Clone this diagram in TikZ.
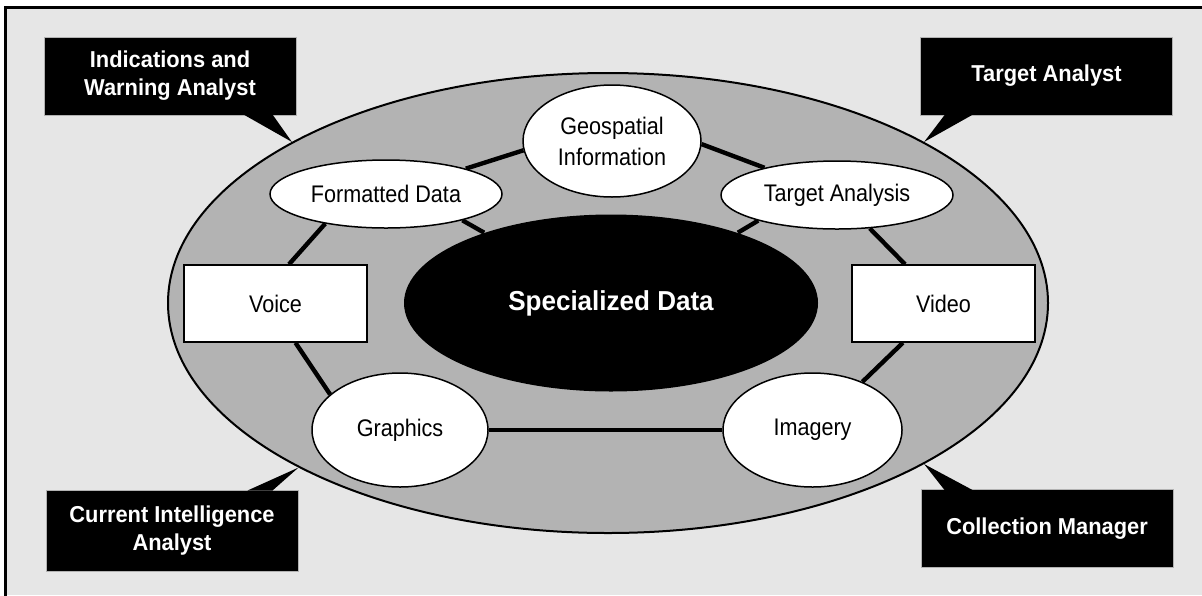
\documentclass[tikz,border=0pt]{standalone}
\usepackage{fontspec}
\setmainfont{Liberation Sans}
\newfontfamily\narrowsans{Liberation Sans}[FakeStretch=0.9]
\newfontfamily\calloutsans{Liberation Sans}[FakeStretch=0.95]
\usetikzlibrary{shapes.geometric, calc}

\definecolor{paper}{RGB}{230,230,230}
\definecolor{ringgray}{RGB}{179,179,179}

\newcommand\itemfont{\narrowsans\fontsize{12}{15.5}\selectfont}
\newcommand\calloutfont{\calloutsans\bfseries\fontsize{11.5}{14}\selectfont}
\newcommand\hubfont{\calloutsans\bfseries\fontsize{13.7}{15}\selectfont}

\pgfdeclarelayer{back}
\pgfdeclarelayer{links}
\pgfsetlayers{back,links,main}

\begin{document}
\begin{tikzpicture}[x=0.5pt, y=-0.5pt,
    item/.style={ellipse, draw, fill=white, line width=0.75pt, inner sep=0pt, align=center, font=\itemfont},
    media/.style={rectangle, draw, fill=white, line width=0.75pt, minimum width=91.5pt, minimum height=38.5pt, font=\itemfont},
    callout/.style={rectangle, fill=black, draw=gray!60, line width=0.5pt, text=white, align=center,
        minimum width=126pt, minimum height=39pt, font=\calloutfont},
    link/.style={line width=2.2pt}]

    \useasboundingbox (0,0) rectangle (1202,595);

    \begin{pgfonlayer}{back}
        \fill[paper] (5,7) rectangle (1202,595);
        \draw[line width=1.5pt] (5,600) -- (5,7) -- (1210,7);
        \node[ellipse, draw, fill=ringgray, line width=1pt, minimum width=440pt, minimum height=230pt] (ring) at (608,303) {};
    \end{pgfonlayer}

    % data forms
    \node[ellipse, fill=black, inner sep=0pt, minimum width=207pt, minimum height=88.5pt, text=white, font=\hubfont] (hub) at (611,303) {Specialized Data};
    \node[item, minimum width=89pt, minimum height=56pt] (geo) at (612,141) {Geospatial\\Information};
    \node[item, minimum width=116pt, minimum height=34pt] (fmt) at (386,194) {Formatted Data};
    \node[item, minimum width=116pt, minimum height=34pt] (tgt) at (837,195) {Target Analysis};
    \node[media] (voice) at (275.5,303.5) {Voice};
    \node[media] (video) at (943.5,303.5) {Video};
    \node[item, minimum width=88pt, minimum height=57pt] (gfx) at (400,430) {Graphics};
    \node[item, minimum width=89.5pt, minimum height=57pt] (img) at (812.5,430) {Imagery};

    \begin{pgfonlayer}{links}
        \draw[link] (geo.186) -- (fmt);
        \draw[link] (geo.358) -- (tgt);
        \draw[link] (fmt.206) -- (voice.71);
        \draw[link] (voice.297) -- (gfx.153);
        \draw[link] (gfx.east) -- (img.west);
        \draw[link] (img) -- (video);
        \draw[link] (video) -- (tgt);
        \draw[link] (fmt.341) -- (hub.151);
        \draw[link] (tgt.198) -- (hub.29);
    \end{pgfonlayer}

    % users
    \node[callout] (iwa) at (170,76) {Indications and\\Warning Analyst};
    \node[callout] (tga) at (1046.5,76) {Target Analyst};
    \node[callout, minimum height=40.5pt] (cia) at (172,530.5) {Current Intelligence\\Analyst};
    \node[callout] (cmg) at (1047,528.5) {Collection Manager};

    \fill ($(iwa.south east)+(-53,-1)$) -- (ring.153) -- ($(iwa.south east)+(-24,-1)$) -- cycle;
    \fill ($(tga.south west)+(25,-1)$) -- (ring.27) -- ($(tga.south west)+(53,-1)$) -- cycle;
    \fill ($(cia.north east)+(-51,1)$) -- (ring.208) -- ($(cia.north east)+(-26,1)$) -- cycle;
    \fill ($(cmg.north west)+(24,1)$) -- (ring.333) -- ($(cmg.north west)+(52,1)$) -- cycle;
\end{tikzpicture}
\end{document}
